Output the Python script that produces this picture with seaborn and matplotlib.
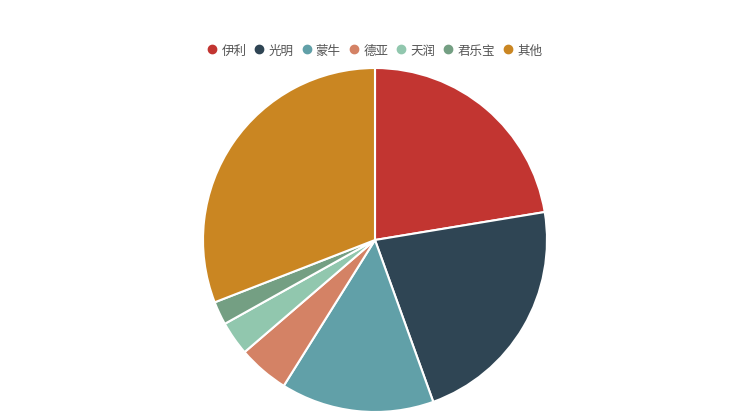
import matplotlib
matplotlib.use("Agg")
import matplotlib.pyplot as plt
from matplotlib.lines import Line2D
import seaborn as sns

brands = ["伊利", "光明", "蒙牛", "德亚", "天润", "君乐宝", "其他"]
shares = [22.4, 22.1, 14.4, 4.8, 3.2, 2.2, 30.9]
colors_hex = ["#c23531", "#2f4554", "#61a0a8", "#d48265", "#91c7ae", "#749f83", "#ca8622"]

sns.set_theme(style="white")
plt.rcParams['font.family'] = ['Noto Sans CJK SC', 'DejaVu Sans']
palette = sns.color_palette(colors_hex)

fig = plt.figure(figsize=(7.5, 4.14), dpi=100)
ax = fig.add_axes([203/750, 1/414, 344/750, 344/414])
ax.pie(shares, colors=palette, startangle=90, counterclock=False,
       wedgeprops=dict(edgecolor="white", linewidth=1.5), radius=1)
ax.set_xlim(-1.0, 1.0)
ax.set_ylim(-1.0, 1.0)
ax.set_aspect("equal")
ax.axis("off")

handles = [Line2D([0], [0], marker="o", linestyle="", markersize=6,
                  markerfacecolor=c, markeredgecolor=c) for c in palette]
leg = fig.legend(handles, brands, loc="center", bbox_to_anchor=(0.5, 1 - 51/414),
                 ncol=len(brands), frameon=False, fontsize=9,
                 handlelength=0.7, handletextpad=0.4, columnspacing=0.68)
for t in leg.get_texts():
    t.set_color("#555555")

fig.savefig("out.png", dpi=100, facecolor="white")
